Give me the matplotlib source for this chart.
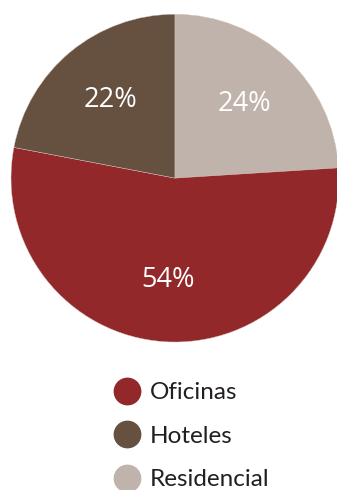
import matplotlib.pyplot as plt
from matplotlib.lines import Line2D

labels = ["Residencial", "Oficinas", "Hoteles"]
sizes = [24, 54, 22]
colors = ["#C0B3AB", "#922829", "#665040"]
legend_order = ["Oficinas", "Hoteles", "Residencial"]

fig = plt.figure(figsize=(3.37, 4.90), dpi=100)
ax = fig.add_axes([0.0326, 0.302, 0.973, 0.669])

wedges, texts, autotexts = ax.pie(
    sizes, colors=colors, startangle=90, counterclock=False,
    autopct="%d%%", pctdistance=0.62,
    wedgeprops={"edgecolor": "#d8c8c0", "linewidth": 0.3},
    textprops={"color": "white", "fontsize": 19.5, "family": "Open Sans"},
)
ax.set_xlim(-1, 1)
ax.set_ylim(-1, 1)
ax.set_aspect("equal")

handles = []
for name in legend_order:
    c = colors[labels.index(name)]
    handles.append(Line2D([], [], marker="o", linestyle="none",
                          markerfacecolor=c, markeredgecolor=c, markersize=19))

fig.legend(handles, legend_order, loc="upper left", bbox_to_anchor=(0.297, 0.245),
           frameon=False, handletextpad=0.35, labelspacing=0.93, borderpad=0,
           handlelength=1.2, prop={"family": "Lato", "size": 17.5},
           labelcolor="#231F20")

plt.savefig("out.png", dpi=100)
